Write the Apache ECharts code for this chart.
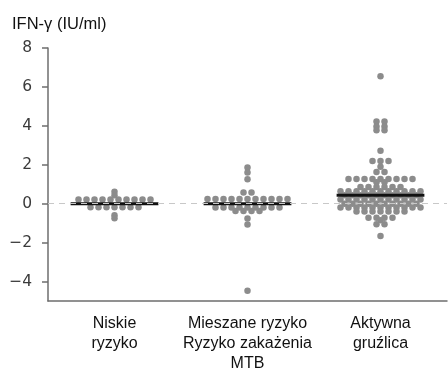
<!DOCTYPE html>
<html>
<head>
<meta charset="utf-8">
<script src="https://cdn.jsdelivr.net/npm/echarts@6/dist/echarts.min.js"></script>
<style>
  html, body { margin: 0; padding: 0; background: #fff; }
  #chart { width: 448px; height: 368px; }
</style>
</head>
<body>
<div id="chart"></div>
<script>
// categories on the x axis
var categories = ['Niskie\nryzyko', 'Mieszane ryzyko\nRyzyko zakażenia\nMTB', 'Aktywna\ngruźlica'];
var yTicks = [-4, -2, 0, 2, 4, 6, 8];

// IFN-gamma values (rounded, so equal readings share a row)
var niskie = [0.62, 0.44,
  0.22, 0.22, 0.22, 0.22, 0.22, 0.22, 0.22, 0.22, 0.22, 0.22,
  -0.18, -0.18, -0.18, -0.18, -0.18, -0.18, -0.18,
  -0.6, -0.75];
var mieszane = [1.86, 1.6, 1.26, 0.57, 0.57,
  0.24, 0.24, 0.24, 0.24, 0.24, 0.24, 0.24, 0.24, 0.24, 0.24, 0.24,
  -0.2, -0.2, -0.2, -0.2, -0.2, -0.2, -0.2, -0.2, -0.2,
  -0.38, -0.38, -0.38, -0.38,
  -0.76, -1.07, -4.47];
var aktywna = [6.55, 4.22, 4.22, 3.97, 3.97, 3.77, 3.77, 2.72,
  2.2, 2.2, 2.2, 1.9, 1.63, 1.63,
  1.27, 1.27, 1.27, 1.27, 1.27, 1.27, 1.27, 1.27, 1.27,
  1.1, 1.1,
  0.86, 0.86, 0.86, 0.86, 0.86, 0.86,
  0.64, 0.64, 0.64, 0.64, 0.64, 0.64, 0.64, 0.64, 0.64, 0.64, 0.64,
  0.44, 0.44, 0.44, 0.44, 0.44, 0.44, 0.44, 0.44, 0.44, 0.44,
  0.22, 0.22, 0.22, 0.22, 0.22, 0.22, 0.22, 0.22, 0.22, 0.22, 0.22,
  0, 0, 0, 0, 0, 0, 0, 0, 0, 0,
  -0.2, -0.2, -0.2, -0.2, -0.2, -0.2, -0.2, -0.2, -0.2, -0.2, -0.2,
  -0.4, -0.4, -0.4, -0.4, -0.4, -0.4, -0.4,
  -0.72, -0.72, -0.72, -0.72,
  -0.85, -1.05, -1.05, -1.66];
var medians = [0, 0, 0.43];

var groups = [niskie, mieszane, aktywna];

var chart = echarts.init(document.getElementById('chart'));
var axisColor = '#6e6e6e';

chart.setOption({
  animation: false,
  backgroundColor: '#fff',
  title: {
    text: 'IFN-γ (IU/ml)',
    left: 7,
    top: 11,
    textStyle: { fontFamily: 'Liberation Sans', fontSize: 16.5, fontWeight: 'normal', color: '#111' }
  },
  grid: { left: 48, right: 1, top: 48, bottom: 67, outerBoundsMode: 'none' },
  xAxis: [{
    type: 'category',
    data: categories,
    axisLine: { onZero: false, lineStyle: { color: axisColor, width: 1.5 } },
    axisTick: { alignWithLabel: true, length: 5, lineStyle: { color: axisColor, width: 1.5 } },
    axisLabel: {
      margin: 13, fontFamily: 'Liberation Sans', fontSize: 16, lineHeight: 20, color: '#111',
      interval: 0
    }
  }, {
    type: 'value', min: 0.5, max: 3.5, show: false
  }],
  yAxis: {
    type: 'value',
    min: -5,
    max: 8,
    axisLine: { show: true, lineStyle: { color: axisColor, width: 1.5 } },
    axisTick: { show: true, length: 6, customValues: yTicks, lineStyle: { color: axisColor, width: 1.5 } },
    axisLabel: {
      customValues: yTicks, margin: 16, fontFamily: 'DejaVu Sans', fontSize: 15.5, color: '#3a3a3a',
      formatter: function (v) { return String(v).replace('-', '\u2212'); }
    },
    splitLine: { show: false }
  },
  series: []
});

// "center" beeswarm: equal values sit side by side in a row, 8px apart
function swarm(values, center) {
  var pitch = 8;
  var cx = chart.convertToPixel({ xAxisIndex: 1 }, center);
  var rows = {};
  values.forEach(function (v) { rows[v] = (rows[v] || 0) + 1; });
  var out = [];
  Object.keys(rows).forEach(function (key) {
    var n = rows[key];
    for (var k = 0; k < n; k++) {
      var px = cx + (k - (n - 1) / 2) * pitch;
      out.push([chart.convertFromPixel({ xAxisIndex: 1 }, px), Number(key)]);
    }
  });
  return out;
}

var series = [{
  type: 'line', xAxisIndex: 1, data: [], z: 1,
  markLine: {
    silent: true, symbol: 'none', label: { show: false },
    lineStyle: { color: '#c8c8c8', type: [6, 5], width: 1 },
    data: [{ yAxis: 0 }]
  }
}];
groups.forEach(function (vals, i) {
  series.push({
    type: 'scatter', xAxisIndex: 1, z: 2,
    symbolSize: 6.5, itemStyle: { color: '#8c8c8c', opacity: 1 },
    data: swarm(vals, i + 1)
  });
});
medians.forEach(function (m, i) {
  series.push({
    type: 'line', xAxisIndex: 1, z: 3, symbol: 'none',
    lineStyle: { color: '#111', width: 3 },
    data: [[i + 1 - 0.33, m], [i + 1 + 0.33, m]]
  });
});
chart.setOption({ series: series });
</script>
</body>
</html>
